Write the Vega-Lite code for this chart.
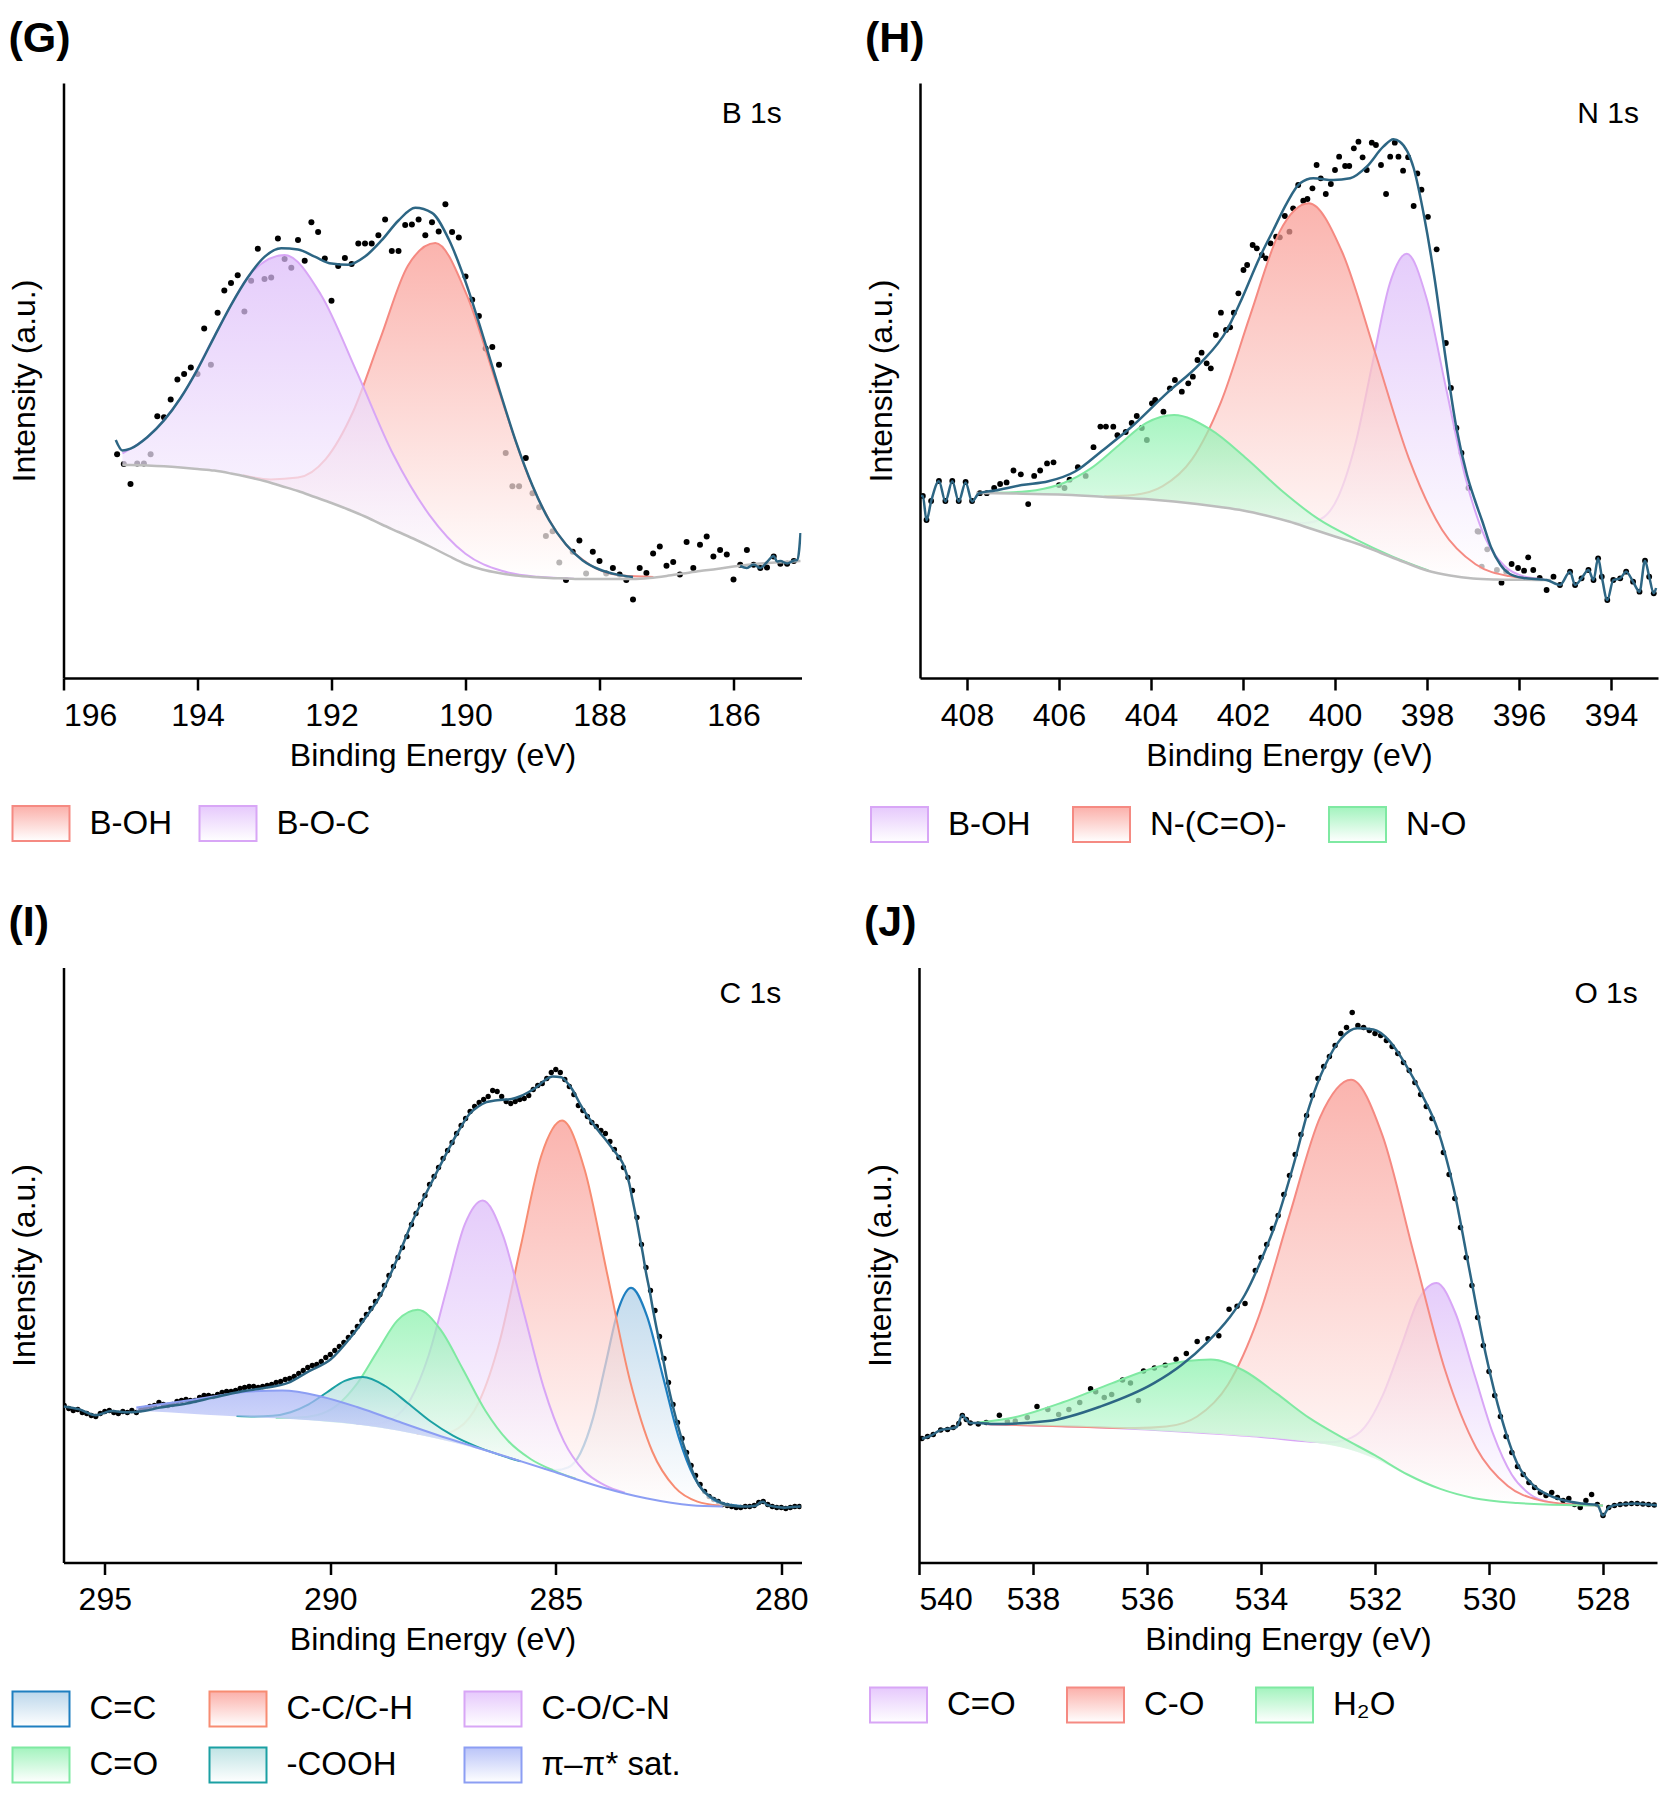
{
  "$schema": "https://vega.github.io/schema/vega-lite/v6.json",
  "background": "white",
  "padding": {"left": 8.5, "top": 17, "right": 5, "bottom": 5},
  "config": {
    "view": {"stroke": null},
    "font": "Liberation Sans",
    "axis": {
      "domainColor": "black", "domainWidth": 2.5, "tickColor": "black", "tickWidth": 2.5, "tickSize": 12,
      "labelFont": "Liberation Sans", "titleFont": "Liberation Sans", "labelFontSize": 32, "titleFontSize": 32,
      "labelColor": "black", "titleColor": "black", "titleFontWeight": "normal", "grid": false
    },
    "legend": {
      "labelFont": "Liberation Sans", "labelFontSize": 33, "labelColor": "black", "padding": 0,
      "symbolStrokeWidth": 2, "symbolType": "M-1,-0.614L1,-0.614L1,0.614L-1,0.614Z", "symbolSize": 3249,
      "labelOffset": 19, "orient": "none", "direction": "horizontal", "title": null
    },
    "title": {"font": "Liberation Sans", "fontSize": 43, "fontWeight": "bold", "color": "black", "anchor": "start", "frame": "bounds", "offset": 22.5}
  },
  "datasets": {
    "g_pts": [
      {"x":195.2,"y":223.8},{"x":195.1,"y":214},{"x":195.0,"y":194},{"x":194.9,"y":214.6},{"x":194.8,"y":214.6},{"x":194.7,"y":223.8},{"x":194.6,"y":261.7},{"x":194.5,"y":260.7},{"x":194.4,"y":278.5},{"x":194.3,"y":298.6},{"x":194.2,"y":304},{"x":194.1,"y":310.5},{"x":194.0,"y":304},{"x":193.9,"y":349.5},{"x":193.8,"y":313.2},{"x":193.7,"y":365.3},{"x":193.6,"y":387.5},{"x":193.5,"y":395.1},{"x":193.4,"y":402.7},{"x":193.3,"y":366.4},{"x":193.2,"y":397.2},{"x":193.1,"y":429.2},{"x":193.0,"y":398.9},{"x":192.9,"y":400.5},{"x":192.8,"y":439.5},{"x":192.7,"y":418.9},{"x":192.6,"y":410.2},{"x":192.5,"y":437.9},{"x":192.4,"y":417.3},{"x":192.3,"y":455.8},{"x":192.2,"y":446},{"x":192.1,"y":419.5},{"x":192.0,"y":377.2},{"x":191.9,"y":411.9},{"x":191.8,"y":420},{"x":191.7,"y":414.1},{"x":191.6,"y":434.6},{"x":191.5,"y":434.6},{"x":191.4,"y":434.6},{"x":191.3,"y":442.8},{"x":191.2,"y":458.5},{"x":191.1,"y":427},{"x":191.0,"y":427},{"x":190.9,"y":453.1},{"x":190.8,"y":453.6},{"x":190.7,"y":458.5},{"x":190.6,"y":442.8},{"x":190.5,"y":455.8},{"x":190.4,"y":446.6},{"x":190.3,"y":473.7},{"x":190.2,"y":446},{"x":190.1,"y":440.6},{"x":190.0,"y":401.6},{"x":189.9,"y":378.3},{"x":189.8,"y":362},{"x":189.7,"y":329.5},{"x":189.6,"y":331.1},{"x":189.5,"y":313.2},{"x":189.4,"y":224.9},{"x":189.3,"y":191.8},{"x":189.2,"y":191.8},{"x":189.1,"y":220},{"x":189.0,"y":184.8},{"x":188.9,"y":170.7},{"x":188.8,"y":142},{"x":188.7,"y":146.8},{"x":188.6,"y":115.4},{"x":188.5,"y":98.1},{"x":188.4,"y":126.2},{"x":188.3,"y":137.6},{"x":188.2,"y":104.6},{"x":188.1,"y":126.2},{"x":188.0,"y":117},{"x":187.9,"y":104.6},{"x":187.8,"y":110},{"x":187.7,"y":103.5},{"x":187.6,"y":98.1},{"x":187.5,"y":78.6},{"x":187.4,"y":110},{"x":187.3,"y":105.1},{"x":187.2,"y":124.6},{"x":187.1,"y":131.6},{"x":187.0,"y":112.2},{"x":186.9,"y":116},{"x":186.8,"y":103.5},{"x":186.7,"y":136},{"x":186.6,"y":110},{"x":186.5,"y":133.3},{"x":186.4,"y":141.4},{"x":186.3,"y":121.4},{"x":186.2,"y":127.9},{"x":186.1,"y":123.5},{"x":186.0,"y":98.6},{"x":185.9,"y":113.2},{"x":185.8,"y":127.9},{"x":185.7,"y":113.2},{"x":185.6,"y":110},{"x":185.5,"y":110.5},{"x":185.4,"y":121.4},{"x":185.3,"y":114.3},{"x":185.2,"y":114.3},{"x":185.1,"y":117}
    ],
    "g_env": [
      {"s":1,"x":195.22,"y":238},{"s":1,"x":195.12,"y":227.5},{"s":1,"x":195.0,"y":229.4},{"s":1,"x":194.75,"y":240.8},{"s":1,"x":194.5,"y":257.6},{"s":1,"x":194.25,"y":280.3},{"s":1,"x":194.0,"y":308.7},{"s":1,"x":193.75,"y":341.2},{"s":1,"x":193.5,"y":372.9},{"s":1,"x":193.25,"y":400.5},{"s":1,"x":193.0,"y":421.1},{"s":1,"x":192.75,"y":429.7},{"s":1,"x":192.5,"y":428.4},{"s":1,"x":192.25,"y":421.3},{"s":1,"x":192.0,"y":414.4},{"s":1,"x":191.75,"y":413.2},{"s":1,"x":191.5,"y":421.4},{"s":1,"x":191.25,"y":437.8},{"s":1,"x":191.0,"y":457.5},{"s":1,"x":190.75,"y":470.2},{"s":1,"x":190.5,"y":465.1},{"s":1,"x":190.25,"y":438.7},{"s":1,"x":190.0,"y":396.4},{"s":1,"x":189.75,"y":344.5},{"s":1,"x":189.5,"y":289.5},{"s":1,"x":189.25,"y":236.9},{"s":1,"x":189.0,"y":192.3},{"s":1,"x":188.75,"y":157.5},{"s":1,"x":188.5,"y":133.5},{"s":1,"x":188.25,"y":117.6},{"s":1,"x":188.0,"y":108.5},{"s":1,"x":187.75,"y":103.6},{"s":1,"x":187.5,"y":101},
      {"s":2,"x":185.9,"y":112},{"s":2,"x":185.8,"y":110},{"s":2,"x":185.7,"y":113.5},{"s":2,"x":185.6,"y":110},{"s":2,"x":185.5,"y":116},{"s":2,"x":185.4,"y":122},{"s":2,"x":185.35,"y":116.5},{"s":2,"x":185.3,"y":117},{"s":2,"x":185.2,"y":114.5},{"s":2,"x":185.1,"y":117.5},{"s":2,"x":185.05,"y":118},{"s":2,"x":185.02,"y":128},{"s":2,"x":185.0,"y":145}
    ],
    "g_bg": [
      {"x":195.12,"y":213},{"x":195.0,"y":213},{"x":194.75,"y":212.5},{"x":194.5,"y":211.7},{"x":194.25,"y":210.5},{"x":194.0,"y":209},{"x":193.75,"y":207.4},{"x":193.5,"y":204.5},{"x":193.25,"y":201},{"x":193.0,"y":197},{"x":192.75,"y":192},{"x":192.5,"y":187},{"x":192.25,"y":181},{"x":192.0,"y":175},{"x":191.75,"y":168.5},{"x":191.5,"y":161.5},{"x":191.25,"y":153.5},{"x":191.0,"y":146},{"x":190.75,"y":138.5},{"x":190.5,"y":130.5},{"x":190.25,"y":122},{"x":190.0,"y":114},{"x":189.75,"y":108.5},{"x":189.5,"y":105},{"x":189.25,"y":102.5},{"x":189.0,"y":101},{"x":188.75,"y":100},{"x":188.5,"y":99.5},{"x":188.25,"y":99},{"x":188.0,"y":99},{"x":187.75,"y":99},{"x":187.5,"y":99},{"x":187.25,"y":100},{"x":187.0,"y":102},{"x":186.75,"y":104.5},{"x":186.5,"y":107},{"x":186.25,"y":109},{"x":186.0,"y":111.5},{"x":185.75,"y":113.5},{"x":185.5,"y":115},{"x":185.25,"y":116},{"x":185.0,"y":117}
    ],
    "g_comp": [
      {"c":"B-OH","x":193.32,"y":202.7,"y0":202},{"c":"B-OH","x":192.91,"y":198.6,"y0":195.2},{"c":"B-OH","x":192.5,"y":200.4,"y0":187},{"c":"B-OH","x":192.09,"y":218.6,"y0":177.2},{"c":"B-OH","x":191.68,"y":266,"y0":166.6},{"c":"B-OH","x":191.27,"y":339.7,"y0":154.1},{"c":"B-OH","x":190.86,"y":412.3,"y0":142.3},{"c":"B-OH","x":190.45,"y":435,"y0":129},{"c":"B-OH","x":189.985,"y":383.7,"y0":113.7},{"c":"B-OH","x":189.52,"y":290.9,"y0":105.3},{"c":"B-OH","x":189.055,"y":200.7,"y0":101.3},{"c":"B-OH","x":188.59,"y":141.1,"y0":99.7},{"c":"B-OH","x":188.125,"y":112.4,"y0":99},{"c":"B-OH","x":187.66,"y":102.4,"y0":99},{"c":"B-OH","x":187.195,"y":101.1,"y0":100.4},
      {"c":"B-O-C","x":195.12,"y":224.6,"y0":213},{"c":"B-O-C","x":194.7,"y":243.8,"y0":212.4},{"c":"B-O-C","x":194.2,"y":285.5,"y0":210.2},{"c":"B-O-C","x":193.7,"y":347.7,"y0":207},{"c":"B-O-C","x":193.2,"y":404.9,"y0":200.2},{"c":"B-O-C","x":192.7,"y":423,"y0":191},{"c":"B-O-C","x":192.16,"y":383.6,"y0":178.9},{"c":"B-O-C","x":191.62,"y":305.6,"y0":164.9},{"c":"B-O-C","x":191.08,"y":223.7,"y0":148.4},{"c":"B-O-C","x":190.54,"y":163.2,"y0":131.8},{"c":"B-O-C","x":190.0,"y":124.2,"y0":114},{"c":"B-O-C","x":189.46,"y":107.2,"y0":104.6},{"c":"B-O-C","x":188.92,"y":101.2,"y0":100.7},{"c":"B-O-C","x":188.38,"y":99.3,"y0":99.3}
    ],
    "h_pts": [
      {"x":408.96,"y":182},{"x":408.88,"y":158},{"x":408.78,"y":177},{"x":408.61,"y":197},{"x":408.47,"y":177},{"x":408.32,"y":197},{"x":408.18,"y":177},{"x":408.03,"y":196},{"x":407.89,"y":177},
      {"x":407.72,"y":184.8},{"x":407.57,"y":184.8},{"x":407.41,"y":190.2},{"x":407.28,"y":194},{"x":407.14,"y":195.6},{"x":406.99,"y":207.5},{"x":406.83,"y":203.7},{"x":406.67,"y":173.9},{"x":406.54,"y":202.1},{"x":406.41,"y":207.5},{"x":406.26,"y":214.6},{"x":406.12,"y":215.7},{"x":406.0,"y":192.9},{"x":405.88,"y":190},{"x":405.77,"y":198.3},{"x":405.59,"y":210.8},{"x":405.42,"y":202.1},{"x":405.25,"y":230.8},{"x":405.1,"y":251.4},{"x":404.98,"y":251.4},{"x":404.82,"y":251.3},{"x":404.73,"y":242.8},{"x":404.55,"y":246},{"x":404.42,"y":255},{"x":404.31,"y":262},{"x":404.2,"y":250},{"x":404.09,"y":238},{"x":403.98,"y":274.7},{"x":403.91,"y":278},{"x":403.73,"y":266.3},{"x":403.59,"y":289.7},{"x":403.48,"y":298},{"x":403.33,"y":286.3},{"x":403.19,"y":294.7},{"x":403.09,"y":301.3},{"x":402.99,"y":318},{"x":402.9,"y":325.3},{"x":402.79,"y":314.7},{"x":402.7,"y":309.7},{"x":402.59,"y":343},{"x":402.48,"y":365.3},{"x":402.37,"y":348},{"x":402.28,"y":350.7},{"x":402.2,"y":365.3},{"x":402.1,"y":384.7},{"x":401.99,"y":408},{"x":401.91,"y":413},{"x":401.79,"y":433},{"x":401.7,"y":429.7},{"x":401.59,"y":423},{"x":401.5,"y":419.7},{"x":401.4,"y":434.7},{"x":401.28,"y":441.3},{"x":401.2,"y":440.7},{"x":401.09,"y":462},{"x":400.99,"y":446.3},{"x":400.91,"y":469.7},{"x":400.8,"y":493},{"x":400.69,"y":477.3},{"x":400.6,"y":479},{"x":400.49,"y":489.7},{"x":400.4,"y":513},{"x":400.31,"y":499.7},{"x":400.2,"y":484},{"x":400.09,"y":494},{"x":400.0,"y":508},{"x":399.91,"y":521.3},{"x":399.78,"y":512},{"x":399.69,"y":512},{"x":399.59,"y":529.7},{"x":399.49,"y":536.3},{"x":399.4,"y":520.7},{"x":399.31,"y":508},{"x":399.2,"y":535.3},{"x":399.11,"y":533},{"x":399.0,"y":513},{"x":398.89,"y":484},{"x":398.8,"y":521.3},{"x":398.7,"y":535.3},{"x":398.62,"y":521.3},{"x":398.52,"y":507.3},{"x":398.41,"y":520.8},{"x":398.29,"y":472},{"x":398.21,"y":504.6},{"x":398.12,"y":488.3},{"x":397.98,"y":461.2},{"x":397.79,"y":428.7},{"x":397.59,"y":335},{"x":397.48,"y":290},{"x":397.36,"y":250},{"x":397.25,"y":225},{"x":397.1,"y":190},{"x":396.9,"y":146.8},{"x":396.88,"y":146.3},{"x":396.81,"y":111.3},{"x":396.69,"y":128.7},{"x":396.48,"y":108},{"x":396.38,"y":95.3},{"x":396.28,"y":106.3},{"x":396.16,"y":114},{"x":396.02,"y":110},{"x":395.89,"y":107.3},{"x":395.8,"y":120.7},{"x":395.69,"y":108},{"x":395.55,"y":100},{"x":395.4,"y":88},{"x":395.25,"y":101.3},{"x":395.11,"y":93},{"x":394.89,"y":106.3},{"x":394.78,"y":93},{"x":394.64,"y":99.7},{"x":394.49,"y":108},{"x":394.38,"y":98},{"x":394.28,"y":119.7},{"x":394.2,"y":101.3},{"x":394.08,"y":78},{"x":393.95,"y":98},{"x":393.8,"y":99.7},{"x":393.67,"y":106.3},{"x":393.52,"y":96.3},{"x":393.38,"y":86.3},{"x":393.26,"y":117.3},{"x":393.17,"y":101.3},{"x":393.07,"y":84.7}
    ],
    "h_env": [
      {"x":409.0,"y":182},{"x":408.96,"y":182.1},{"x":408.88,"y":157.7},{"x":408.78,"y":176.6},{"x":408.61,"y":196.7},{"x":408.47,"y":176.6},{"x":408.32,"y":196.7},{"x":408.18,"y":176.6},{"x":408.03,"y":195.6},{"x":407.89,"y":176.6},{"x":407.74,"y":184.8},{"x":407.39,"y":187.5},{"x":406.81,"y":192.9},{"x":406.23,"y":196.7},{"x":405.65,"y":206.5},{"x":405.07,"y":227},{"x":404.46,"y":249.7},{"x":403.66,"y":284.7},{"x":402.93,"y":314.7},{"x":402.35,"y":348},{"x":402.07,"y":374.7},{"x":401.63,"y":421.3},{"x":401.34,"y":448},{"x":401.05,"y":474.7},{"x":400.76,"y":494.7},{"x":400.47,"y":499.7},{"x":400.04,"y":498},{"x":399.67,"y":499.7},{"x":399.31,"y":511.3},{"x":398.95,"y":531.3},{"x":398.73,"y":538.7},{"x":398.59,"y":536.3},{"x":398.29,"y":510},{"x":398.06,"y":461},{"x":397.83,"y":398},{"x":397.59,"y":318},{"x":397.36,"y":250},{"x":397.13,"y":203},{"x":396.96,"y":178},{"x":396.8,"y":157},{"x":396.61,"y":131},{"x":396.4,"y":113},{"x":396.2,"y":104},{"x":395.9,"y":100},{"x":395.5,"y":98.5},{"x":395.4,"y":98},{"x":395.11,"y":93},{"x":394.89,"y":106.3},{"x":394.78,"y":93},{"x":394.64,"y":99.7},{"x":394.49,"y":108},{"x":394.38,"y":98},{"x":394.28,"y":119.7},{"x":394.2,"y":101.3},{"x":394.08,"y":78},{"x":393.95,"y":98},{"x":393.8,"y":99.7},{"x":393.67,"y":106.3},{"x":393.52,"y":96.3},{"x":393.38,"y":86.3},{"x":393.26,"y":117.3},{"x":393.17,"y":101.3},{"x":393.07,"y":84.7},{"x":393.02,"y":90}
    ],
    "h_bg": [
      {"x":407.8,"y":185},{"x":407.0,"y":184.5},{"x":406.0,"y":183.5},{"x":405.0,"y":181},{"x":404.0,"y":178.5},{"x":403.5,"y":176.5},{"x":403.0,"y":174},{"x":402.5,"y":171},{"x":402.0,"y":167.5},{"x":401.5,"y":162.5},{"x":401.0,"y":156.5},{"x":400.5,"y":149},{"x":400.0,"y":141.5},{"x":399.5,"y":134},{"x":399.0,"y":125},{"x":398.5,"y":116},{"x":398.0,"y":107.5},{"x":397.5,"y":102.5},{"x":397.0,"y":99.5},{"x":396.5,"y":98.5},{"x":396.0,"y":98.2},{"x":395.3,"y":98}
    ],
    "h_comp": [
      {"c":"B-OH","x":401.03,"y":157.6,"y0":156.9},{"c":"B-OH","x":400.66,"y":155,"y0":151.4},{"c":"B-OH","x":400.29,"y":159.5,"y0":145.9},{"c":"B-OH","x":399.92,"y":182.2,"y0":140.4},{"c":"B-OH","x":399.55,"y":235.2,"y0":134.9},{"c":"B-OH","x":399.18,"y":315.9,"y0":128.5},{"c":"B-OH","x":398.81,"y":394.3,"y0":121.6},{"c":"B-OH","x":398.44,"y":424.3,"y0":115.3},{"c":"B-OH","x":398.015,"y":380.5,"y0":107.8},{"c":"B-OH","x":397.59,"y":290.7,"y0":103.3},{"c":"B-OH","x":397.165,"y":200.6,"y0":100.3},{"c":"B-OH","x":396.74,"y":140.7,"y0":98.9},{"c":"B-OH","x":396.315,"y":112,"y0":98.4},{"c":"B-OH","x":395.89,"y":101.5,"y0":98.1},{"c":"B-OH","x":395.465,"y":98.7,"y0":98},
      {"c":"N-(C=O)-","x":405.015,"y":181.7,"y0":181},{"c":"N-(C=O)-","x":404.38,"y":183,"y0":179.4},{"c":"N-(C=O)-","x":403.745,"y":191.8,"y0":177.5},{"c":"N-(C=O)-","x":403.11,"y":218.6,"y0":174.6},{"c":"N-(C=O)-","x":402.475,"y":276.4,"y0":170.9},{"c":"N-(C=O)-","x":401.84,"y":363.1,"y0":166},{"c":"N-(C=O)-","x":401.205,"y":446.1,"y0":159},{"c":"N-(C=O)-","x":400.57,"y":474.7,"y0":150},{"c":"N-(C=O)-","x":399.845,"y":426,"y0":139.2},{"c":"N-(C=O)-","x":399.12,"y":324.3,"y0":127.2},{"c":"N-(C=O)-","x":398.395,"y":219.7,"y0":114.2},{"c":"N-(C=O)-","x":397.67,"y":148,"y0":104},{"c":"N-(C=O)-","x":396.945,"y":113.7,"y0":99.4},{"c":"N-(C=O)-","x":396.22,"y":101.9,"y0":98.3},{"c":"N-(C=O)-","x":395.495,"y":98.7,"y0":98},
      {"c":"N-O","x":407.7,"y":185.2,"y0":185},{"c":"N-O","x":407.1,"y":185.6,"y0":184.6},{"c":"N-O","x":406.5,"y":187.8,"y0":184},{"c":"N-O","x":405.9,"y":195,"y0":183.3},{"c":"N-O","x":405.3,"y":209.9,"y0":181.8},{"c":"N-O","x":404.7,"y":232.8,"y0":180.3},{"c":"N-O","x":404.1,"y":255.1,"y0":178.8},{"c":"N-O","x":403.5,"y":263,"y0":176.5},{"c":"N-O","x":402.71,"y":248.6,"y0":172.3},{"c":"N-O","x":401.92,"y":219.3,"y0":166.8},{"c":"N-O","x":401.13,"y":186.2,"y0":158.1},{"c":"N-O","x":400.34,"y":158.3,"y0":146.6},{"c":"N-O","x":399.55,"y":138.7,"y0":134.9},{"c":"N-O","x":398.76,"y":121.7,"y0":120.7},{"c":"N-O","x":397.97,"y":107.5,"y0":107.3}
    ],
    "i_pts": [
      {"x":295.9,"y":157},{"x":295.8,"y":154},{"x":295.7,"y":152},{"x":295.6,"y":153},{"x":295.5,"y":150},{"x":295.4,"y":149},{"x":295.3,"y":147},{"x":295.2,"y":146},{"x":295.1,"y":149},{"x":295.0,"y":151},{"x":294.9,"y":152},{"x":294.8,"y":150},{"x":294.7,"y":149},{"x":294.6,"y":151},{"x":294.5,"y":150},{"x":294.4,"y":152},{"x":294.3,"y":150},{"x":294.2,"y":153},{"x":294.1,"y":154},{"x":294.0,"y":156},{"x":293.9,"y":157},{"x":293.8,"y":160},{"x":293.7,"y":158},{"x":293.6,"y":157},{"x":293.5,"y":158},{"x":293.4,"y":161},{"x":293.3,"y":162},{"x":293.2,"y":163},{"x":293.1,"y":162},{"x":293.0,"y":162},{"x":292.9,"y":165},{"x":292.8,"y":167},{"x":292.7,"y":167},{"x":292.6,"y":166},{"x":292.5,"y":168},{"x":292.4,"y":170},{"x":292.3,"y":171},{"x":292.2,"y":171},{"x":292.1,"y":172},{"x":292.0,"y":174},{"x":291.9,"y":175},{"x":291.8,"y":176},{"x":291.7,"y":176},{"x":291.6,"y":175},{"x":291.5,"y":176},{"x":291.4,"y":177},{"x":291.3,"y":178},{"x":291.2,"y":180},{"x":291.1,"y":181},{"x":291.0,"y":183},{"x":290.9,"y":184},{"x":290.8,"y":186},{"x":290.7,"y":189},{"x":290.6,"y":192},{"x":290.5,"y":195},{"x":290.4,"y":197},{"x":290.3,"y":198},{"x":290.2,"y":201},{"x":290.1,"y":205},{"x":290.0,"y":208},{"x":289.9,"y":212},{"x":289.8,"y":216},{"x":289.7,"y":220},{"x":289.6,"y":225},{"x":289.5,"y":230},{"x":289.4,"y":236},{"x":289.3,"y":242},{"x":289.2,"y":248},{"x":289.1,"y":254},{"x":289.0,"y":261},{"x":288.9,"y":268},{"x":288.8,"y":277},{"x":288.7,"y":287},{"x":288.6,"y":296},{"x":288.5,"y":305},{"x":288.4,"y":315},{"x":288.3,"y":326},{"x":288.2,"y":338},{"x":288.1,"y":349},{"x":288.0,"y":358},{"x":287.9,"y":367},{"x":287.8,"y":378},{"x":287.7,"y":386},{"x":287.6,"y":395},{"x":287.5,"y":404},{"x":287.4,"y":412},{"x":287.3,"y":420},{"x":287.2,"y":429},{"x":287.1,"y":437},{"x":287.0,"y":444},{"x":286.9,"y":451},{"x":286.8,"y":456},{"x":286.7,"y":460},{"x":286.6,"y":463},{"x":286.5,"y":466},{"x":286.4,"y":472},{"x":286.3,"y":471},{"x":286.2,"y":466},{"x":286.1,"y":461},{"x":286.0,"y":459},{"x":285.9,"y":461},{"x":285.8,"y":463},{"x":285.7,"y":464},{"x":285.6,"y":467},{"x":285.5,"y":473},{"x":285.4,"y":477},{"x":285.3,"y":479},{"x":285.2,"y":484},{"x":285.1,"y":490},{"x":285.0,"y":493},{"x":284.9,"y":490},{"x":284.8,"y":483},{"x":284.7,"y":476},{"x":284.6,"y":468},{"x":284.5,"y":457},{"x":284.4,"y":452},{"x":284.3,"y":446},{"x":284.2,"y":440},{"x":284.1,"y":436},{"x":284.0,"y":432},{"x":283.9,"y":429},{"x":283.8,"y":421},{"x":283.7,"y":413},{"x":283.6,"y":405},{"x":283.5,"y":395},{"x":283.4,"y":385},{"x":283.3,"y":372},{"x":283.2,"y":345},{"x":283.1,"y":318},{"x":283.0,"y":295},{"x":282.9,"y":272},{"x":282.8,"y":252},{"x":282.7,"y":226},{"x":282.6,"y":204},{"x":282.5,"y":180},{"x":282.4,"y":158},{"x":282.3,"y":140},{"x":282.2,"y":124},{"x":282.1,"y":110},{"x":282.0,"y":97},{"x":281.9,"y":87},{"x":281.8,"y":78},{"x":281.7,"y":71},{"x":281.6,"y":66},{"x":281.5,"y":63},{"x":281.4,"y":61},{"x":281.3,"y":58},{"x":281.2,"y":57},{"x":281.1,"y":56},{"x":281.0,"y":55},{"x":280.9,"y":55},{"x":280.8,"y":56},{"x":280.7,"y":56},{"x":280.6,"y":57},{"x":280.5,"y":60},{"x":280.4,"y":61},{"x":280.3,"y":58},{"x":280.2,"y":56},{"x":280.1,"y":55},{"x":280.0,"y":55},{"x":279.9,"y":54},{"x":279.8,"y":55},{"x":279.7,"y":56},{"x":279.6,"y":56}
    ],
    "i_env": [
      {"x":295.91,"y":156.1},{"x":295.56,"y":153.1},{"x":295.2,"y":147.2},{"x":294.85,"y":151.4},{"x":294.49,"y":150.2},{"x":294.14,"y":151.4},{"x":293.78,"y":154.9},{"x":293.19,"y":159},{"x":292.6,"y":164.9},{"x":292.0,"y":170.8},{"x":291.41,"y":174.9},{"x":290.94,"y":179.6},{"x":290.47,"y":191.4},{"x":289.99,"y":203.2},{"x":289.52,"y":226.8},{"x":289.2,"y":246},{"x":288.91,"y":265.3},{"x":288.57,"y":298},{"x":288.17,"y":342},{"x":287.8,"y":376},{"x":287.43,"y":408.7},{"x":287.15,"y":432},{"x":286.91,"y":448.7},{"x":286.72,"y":456},{"x":286.54,"y":460.3},{"x":286.35,"y":462},{"x":286.17,"y":462.7},{"x":285.98,"y":463.5},{"x":285.8,"y":466},{"x":285.62,"y":470},{"x":285.43,"y":475.3},{"x":285.25,"y":482},{"x":285.07,"y":486},{"x":284.88,"y":485.3},{"x":284.75,"y":480},{"x":284.62,"y":472},{"x":284.48,"y":460},{"x":284.33,"y":448.7},{"x":284.18,"y":439},{"x":284.03,"y":430.3},{"x":283.88,"y":422},{"x":283.74,"y":413.7},{"x":283.62,"y":406.5},{"x":283.51,"y":398.7},{"x":283.44,"y":390},{"x":283.37,"y":378.7},{"x":283.3,"y":363},{"x":283.22,"y":345.3},{"x":283.15,"y":328},{"x":283.07,"y":308.7},{"x":283.0,"y":290},{"x":282.92,"y":272},{"x":282.85,"y":254},{"x":282.77,"y":235.3},{"x":282.7,"y":220},{"x":282.63,"y":205.3},{"x":282.5,"y":175},{"x":282.38,"y":152},{"x":282.25,"y":130},{"x":282.1,"y":108},{"x":281.95,"y":89},{"x":281.82,"y":77},{"x":281.64,"y":68},{"x":281.46,"y":63},{"x":281.3,"y":59},{"x":281.11,"y":57.1},{"x":280.9,"y":56},{"x":280.75,"y":56},{"x":280.55,"y":57},{"x":280.47,"y":60},{"x":280.4,"y":60.7},{"x":280.33,"y":58},{"x":280.28,"y":57.1},{"x":280.1,"y":55.5},{"x":279.92,"y":54.8},{"x":279.75,"y":55.5},{"x":279.57,"y":56}
    ],
    "i_comp": [
      {"c":"C=C","x":285.29,"y":94.7,"y0":94.2},{"c":"C=C","x":285.01,"y":92.4,"y0":90.1},{"c":"C=C","x":284.73,"y":95,"y0":85.9},{"c":"C=C","x":284.45,"y":109.8,"y0":81.8},{"c":"C=C","x":284.17,"y":145.1,"y0":77.9},{"c":"C=C","x":283.89,"y":199.6,"y0":74.1},{"c":"C=C","x":283.61,"y":253.5,"y0":70.8},{"c":"C=C","x":283.33,"y":274.7,"y0":67.7},{"c":"C=C","x":282.98,"y":246.7,"y0":64},{"c":"C=C","x":282.63,"y":186.9,"y0":61.4},{"c":"C=C","x":282.28,"y":126.2,"y0":59},{"c":"C=C","x":281.93,"y":85.1,"y0":57.1},{"c":"C=C","x":281.58,"y":65.4,"y0":56.3},{"c":"C=C","x":281.23,"y":58.4,"y0":56.1},{"c":"C=C","x":280.88,"y":56.5,"y0":56},
      {"c":"C-C/C-H","x":288.08,"y":129,"y0":128.2},{"c":"C-C/C-H","x":287.62,"y":127.6,"y0":123.7},{"c":"C-C/C-H","x":287.16,"y":134.3,"y0":118.8},{"c":"C-C/C-H","x":286.7,"y":161,"y0":113.1},{"c":"C-C/C-H","x":286.24,"y":222,"y0":107.1},{"c":"C-C/C-H","x":285.78,"y":315.7,"y0":101},{"c":"C-C/C-H","x":285.32,"y":407,"y0":94.6},{"c":"C-C/C-H","x":284.86,"y":441.9,"y0":87.9},{"c":"C-C/C-H","x":284.36,"y":392.8,"y0":80.4},{"c":"C-C/C-H","x":283.86,"y":288.5,"y0":73.8},{"c":"C-C/C-H","x":283.36,"y":182.8,"y0":67.9},{"c":"C-C/C-H","x":282.86,"y":111,"y0":63.1},{"c":"C-C/C-H","x":282.36,"y":75.1,"y0":59.6},{"c":"C-C/C-H","x":281.86,"y":60.9,"y0":57},{"c":"C-C/C-H","x":281.36,"y":56.9,"y0":56.1},
      {"c":"C-O/C-N","x":289.42,"y":138.8,"y0":138.2},{"c":"C-O/C-N","x":289.02,"y":138.4,"y0":135.6},{"c":"C-O/C-N","x":288.62,"y":143.8,"y0":132.8},{"c":"C-O/C-N","x":288.22,"y":163.3,"y0":129.5},{"c":"C-O/C-N","x":287.82,"y":207,"y0":125.8},{"c":"C-O/C-N","x":287.42,"y":273.2,"y0":121.6},{"c":"C-O/C-N","x":287.02,"y":337.8,"y0":117.2},{"c":"C-O/C-N","x":286.62,"y":362,"y0":112},{"c":"C-O/C-N","x":286.17,"y":326.8,"y0":106.2},{"c":"C-O/C-N","x":285.72,"y":251.8,"y0":100.2},{"c":"C-O/C-N","x":285.27,"y":175.1,"y0":93.9},{"c":"C-O/C-N","x":284.82,"y":121.1,"y0":87.3},{"c":"C-O/C-N","x":284.37,"y":91.5,"y0":80.5},{"c":"C-O/C-N","x":283.92,"y":77.4,"y0":74.6},{"c":"C-O/C-N","x":283.47,"y":69.8,"y0":69.2},
      {"c":"C=O","x":291.21,"y":144.7,"y0":144.4},{"c":"C=O","x":290.76,"y":144.9,"y0":143.5},{"c":"C=O","x":290.31,"y":147.3,"y0":141.8},{"c":"C=O","x":289.86,"y":156.9,"y0":140},{"c":"C=O","x":289.41,"y":178.6,"y0":138.1},{"c":"C=O","x":288.96,"y":210.9,"y0":135.3},{"c":"C=O","x":288.51,"y":242.1,"y0":132.1},{"c":"C=O","x":288.06,"y":252.7,"y0":128},{"c":"C=O","x":287.56,"y":233.1,"y0":123.1},{"c":"C=O","x":287.06,"y":193.3,"y0":117.7},{"c":"C=O","x":286.56,"y":151.8,"y0":111.3},{"c":"C=O","x":286.06,"y":121.7,"y0":104.8},{"c":"C=O","x":285.56,"y":103.5,"y0":98},{"c":"C=O","x":285.06,"y":92.2,"y0":90.8},{"c":"C=O","x":284.56,"y":83.7,"y0":83.4},
      {"c":"-COOH","x":292.08,"y":146.4,"y0":146.3},{"c":"-COOH","x":291.68,"y":146,"y0":145.5},{"c":"-COOH","x":291.28,"y":146.7,"y0":144.6},{"c":"-COOH","x":290.88,"y":150.3,"y0":143.8},{"c":"-COOH","x":290.48,"y":158.1,"y0":142.4},{"c":"-COOH","x":290.08,"y":170,"y0":140.8},{"c":"-COOH","x":289.68,"y":181.7,"y0":139.2},{"c":"-COOH","x":289.28,"y":185.5,"y0":137.3},{"c":"-COOH","x":288.78,"y":176.5,"y0":134},{"c":"-COOH","x":288.28,"y":159.3,"y0":130.1},{"c":"-COOH","x":287.78,"y":141.2,"y0":125.5},{"c":"-COOH","x":287.28,"y":126.8,"y0":120.3},{"c":"-COOH","x":286.78,"y":116.3,"y0":114.2},{"c":"-COOH","x":286.28,"y":108.1,"y0":107.6},{"c":"-COOH","x":285.78,"y":101.1,"y0":101},
      {"c":"π–π* sat.","x":294.3,"y":155,"y0":151.5},{"c":"π–π* sat.","x":293.61,"y":159.3,"y0":150.2},{"c":"π–π* sat.","x":292.76,"y":164.7,"y0":147.7},{"c":"π–π* sat.","x":291.91,"y":170.5,"y0":145.8},{"c":"π–π* sat.","x":291.06,"y":172,"y0":144},{"c":"π–π* sat.","x":290.21,"y":166.1,"y0":141.4},{"c":"π–π* sat.","x":289.36,"y":154.8,"y0":137.8},{"c":"π–π* sat.","x":288.51,"y":141.2,"y0":132.1},{"c":"π–π* sat.","x":287.66,"y":128,"y0":124.2},{"c":"π–π* sat.","x":286.81,"y":115.8,"y0":114.6},{"c":"π–π* sat.","x":285.96,"y":103.9,"y0":103.6},{"c":"π–π* sat.","x":285.11,"y":91.7,"y0":91.6},{"c":"π–π* sat.","x":284.0,"y":75.5,"y0":75.5},{"c":"π–π* sat.","x":283.0,"y":64.2,"y0":64.2},{"c":"π–π* sat.","x":282.0,"y":57.3,"y0":57.3},{"c":"π–π* sat.","x":281.3,"y":56.1,"y0":56.1}
    ],
    "j_pts": [
      {"x":539.95,"y":124},{"x":539.85,"y":126},{"x":539.75,"y":128},{"x":539.62,"y":132.5},{"x":539.5,"y":133},{"x":539.4,"y":135},{"x":539.3,"y":139},{"x":539.24,"y":147},{"x":539.17,"y":143},{"x":539.1,"y":139.6},{"x":538.96,"y":138.4},{"x":538.82,"y":140},{"x":538.59,"y":147.2},{"x":538.45,"y":141},{"x":538.31,"y":141.4},{"x":538.1,"y":145},{"x":537.93,"y":156.1},{"x":537.74,"y":153.1},{"x":537.55,"y":148},{"x":537.37,"y":153.1},{"x":537.18,"y":160},{"x":536.99,"y":173.7},{"x":536.9,"y":170.8},{"x":536.75,"y":165},{"x":536.62,"y":167.9},{"x":536.43,"y":182.6},{"x":536.29,"y":179.6},{"x":536.15,"y":162},{"x":536.06,"y":191.4},{"x":535.87,"y":194.4},{"x":535.68,"y":197.3},{"x":535.49,"y":203.2},{"x":535.31,"y":209.1},{"x":535.12,"y":220.9},{"x":534.93,"y":223.8},{"x":534.74,"y":226.7},{"x":534.56,"y":253.3},{"x":534.42,"y":256.2},{"x":534.28,"y":259.1},
      {"x":534.1,"y":292},{"x":534.0,"y":305},{"x":533.9,"y":318},{"x":533.8,"y":334},{"x":533.7,"y":347},{"x":533.6,"y":368},{"x":533.5,"y":387},{"x":533.4,"y":408},{"x":533.3,"y":428},{"x":533.2,"y":447},{"x":533.1,"y":467},{"x":533.0,"y":484},{"x":532.9,"y":496},{"x":532.8,"y":506},{"x":532.7,"y":517},{"x":532.6,"y":529},{"x":532.5,"y":535},{"x":532.4,"y":550},{"x":532.3,"y":537},{"x":532.2,"y":535},{"x":532.1,"y":532},{"x":532.0,"y":529},{"x":531.9,"y":527},{"x":531.8,"y":522},{"x":531.7,"y":516},{"x":531.6,"y":509},{"x":531.5,"y":500},{"x":531.4,"y":492},{"x":531.3,"y":480},{"x":531.2,"y":468},{"x":531.1,"y":456},{"x":531.0,"y":444},{"x":530.9,"y":430},{"x":530.8,"y":410},{"x":530.7,"y":388},{"x":530.6,"y":364},{"x":530.5,"y":335},{"x":530.4,"y":305},{"x":530.3,"y":277},{"x":530.2,"y":245},{"x":530.1,"y":217},{"x":530.0,"y":191},{"x":529.9,"y":167},{"x":529.8,"y":146},{"x":529.7,"y":126},{"x":529.6,"y":110},{"x":529.5,"y":96},{"x":529.4,"y":88},{"x":529.3,"y":80},{"x":529.2,"y":75},{"x":529.1,"y":70},{"x":529.0,"y":67},{"x":528.9,"y":70},{"x":528.8,"y":65},{"x":528.7,"y":62},{"x":528.6,"y":64},{"x":528.5,"y":58},{"x":528.4,"y":55},{"x":528.3,"y":62},{"x":528.2,"y":68},{"x":528.1,"y":58},{"x":528.0,"y":47},{"x":527.9,"y":55},{"x":527.8,"y":57},{"x":527.7,"y":58},{"x":527.6,"y":58.5},{"x":527.5,"y":59},{"x":527.4,"y":59},{"x":527.3,"y":58.5},{"x":527.2,"y":58},{"x":527.1,"y":57.5}
    ],
    "j_env": [
      {"x":539.95,"y":123.7},{"x":539.8,"y":126.6},{"x":539.62,"y":132.5},{"x":539.45,"y":134},{"x":539.34,"y":135.5},{"x":539.24,"y":147.2},{"x":539.17,"y":143},{"x":539.1,"y":139.6},{"x":538.96,"y":139.6},{"x":538.68,"y":138.4},{"x":537.74,"y":141.4},{"x":536.81,"y":156.1},{"x":535.87,"y":179.6},{"x":535.4,"y":197.3},{"x":534.93,"y":220.9},{"x":534.56,"y":244.4},{"x":534.28,"y":268},{"x":533.99,"y":303.3},{"x":533.71,"y":344.5},{"x":533.43,"y":397.5},{"x":533.15,"y":456.4},{"x":532.87,"y":497.7},{"x":532.59,"y":524.2},{"x":532.31,"y":534.2},{"x":532.03,"y":533},{"x":531.74,"y":521.2},{"x":531.46,"y":497.7},{"x":531.18,"y":468.2},{"x":530.9,"y":432.9},{"x":530.62,"y":374},{"x":530.34,"y":291.5},{"x":530.06,"y":209.1},{"x":529.78,"y":144.3},{"x":529.49,"y":97.2},{"x":529.21,"y":76.6},{"x":528.84,"y":64.8},{"x":528.37,"y":58.9},{"x":528.1,"y":57.5},{"x":528.0,"y":47.1},{"x":527.9,"y":55},{"x":527.81,"y":57.1},{"x":527.6,"y":58.5},{"x":527.43,"y":58.9},{"x":527.2,"y":58},{"x":527.01,"y":57.1}
    ],
    "j_comp": [
      {"c":"C=O","x":538.8,"y":138.2,"y0":138.2},{"c":"C=O","x":538.0,"y":137,"y0":137},{"c":"C=O","x":537.0,"y":135.5,"y0":135.5},{"c":"C=O","x":536.0,"y":133,"y0":133},{"c":"C=O","x":535.0,"y":129.5,"y0":129.5},{"c":"C=O","x":534.0,"y":125.5,"y0":125.5},{"c":"C=O","x":533.125,"y":120.8,"y0":120.3},{"c":"C=O","x":532.81,"y":120.2,"y0":117.9},{"c":"C=O","x":532.495,"y":123,"y0":114},{"c":"C=O","x":532.18,"y":135.3,"y0":107.6},{"c":"C=O","x":531.865,"y":167.1,"y0":100.5},{"c":"C=O","x":531.55,"y":214.6,"y0":90.3},{"c":"C=O","x":531.235,"y":263,"y0":82.1},{"c":"C=O","x":530.92,"y":279.5,"y0":74.5},{"c":"C=O","x":530.59,"y":249.5,"y0":68.6},{"c":"C=O","x":530.26,"y":188.7,"y0":64.4},{"c":"C=O","x":529.93,"y":128.8,"y0":61.7},{"c":"C=O","x":529.6,"y":87.7,"y0":60},{"c":"C=O","x":529.27,"y":67.7,"y0":58.7},{"c":"C=O","x":528.94,"y":60.2,"y0":57.9},{"c":"C=O","x":528.61,"y":57.9,"y0":57.4},{"c":"C=O","x":528.0,"y":57,"y0":57},
      {"c":"C-O","x":538.8,"y":138.2,"y0":138.2},{"c":"C-O","x":537.5,"y":136.3,"y0":136.3},{"c":"C-O","x":536.2,"y":134.4,"y0":133.6},{"c":"C-O","x":535.66,"y":135.9,"y0":131.8},{"c":"C-O","x":535.12,"y":146,"y0":129.8},{"c":"C-O","x":534.58,"y":177.7,"y0":127.6},{"c":"C-O","x":534.04,"y":245.8,"y0":125.7},{"c":"C-O","x":533.5,"y":347.4,"y0":123},{"c":"C-O","x":532.96,"y":445.7,"y0":119.2},{"c":"C-O","x":532.42,"y":482.7,"y0":112.7},{"c":"C-O","x":531.87,"y":427.1,"y0":100.6},{"c":"C-O","x":531.32,"y":309,"y0":84.6},{"c":"C-O","x":530.77,"y":192.2,"y0":72.1},{"c":"C-O","x":530.22,"y":114.3,"y0":64.2},{"c":"C-O","x":529.67,"y":76.5,"y0":60.3},{"c":"C-O","x":529.12,"y":62.4,"y0":58.3},{"c":"C-O","x":528.57,"y":58.2,"y0":57.4},{"c":"C-O","x":528.0,"y":57,"y0":57},
      {"c":"H₂O","x":538.96,"y":140,"y0":138.4},{"c":"H₂O","x":538.34,"y":145,"y0":137.5},{"c":"H₂O","x":537.475,"y":160.2,"y0":136.2},{"c":"H₂O","x":536.61,"y":179.4,"y0":134.5},{"c":"H₂O","x":535.745,"y":196.8,"y0":131.5},{"c":"H₂O","x":534.88,"y":203,"y0":129},{"c":"H₂O","x":534.305,"y":192,"y0":126.7},{"c":"H₂O","x":533.73,"y":169.1,"y0":124.2},{"c":"H₂O","x":533.155,"y":144.6,"y0":120.6},{"c":"H₂O","x":532.58,"y":125.1,"y0":115.1},{"c":"H₂O","x":532.005,"y":107.3,"y0":104.1},{"c":"H₂O","x":531.43,"y":88,"y0":87.2},{"c":"H₂O","x":530.855,"y":73.6,"y0":73.4},{"c":"H₂O","x":530.28,"y":64.6,"y0":64.6},{"c":"H₂O","x":529.5,"y":59.5,"y0":59.5},{"c":"H₂O","x":529.0,"y":58,"y0":58},{"c":"H₂O","x":528.5,"y":57.3,"y0":57.3},{"c":"H₂O","x":528.0,"y":57,"y0":57}
    ]
  },
  "resolve": {"scale": {"stroke": "independent"}, "legend": {"stroke": "independent"}},
  "spacing": 55.5,
  "vconcat": [
    {
      "spacing": 63.5,
      "resolve": {"scale": {"stroke": "independent"}, "legend": {"stroke": "independent"}},
      "hconcat": [
        {
          "title": {"text": "(G)"},
          "width": 738, "height": 595,
          "encoding": {
            "x": {"field": "x", "type": "quantitative", "scale": {"domain": [184.985, 196], "reverse": true, "nice": false, "zero": false}, "axis": {"values": [186, 188, 190, 192, 194, 196], "format": "d", "title": "Binding Energy (eV)", "labelPadding": 10, "titlePadding": 9}},
            "y": {"field": "y", "type": "quantitative", "scale": {"domain": [0, 595], "nice": false, "zero": false}, "axis": {"title": "Intensity (a.u.)", "labels": false, "ticks": false, "titlePadding": 22}}
          },
          "layer": [
            {"data": {"name": "g_pts"}, "mark": {"type": "circle", "size": 36, "color": "black", "opacity": 1, "clip": true}},
            {"data": {"name": "g_comp"}, "transform": [{"filter": "datum.c === 'B-OH'"}], "mark": {"type": "area", "interpolate": "monotone", "fillOpacity": 0.72, "clip": true, "color": {"gradient": "linear", "x1": 0, "y1": 0, "x2": 0, "y2": 1, "stops": [{"offset": 0, "color": "#f9978f"}, {"offset": 1, "color": "#ffffff"}]}}, "encoding": {"y2": {"field": "y0"}}},
            {"data": {"name": "g_comp"}, "transform": [{"filter": "datum.c === 'B-OH'"}], "mark": {"type": "line", "interpolate": "monotone", "strokeWidth": 2, "clip": true},
             "encoding": {"stroke": {"field": "c", "type": "nominal", "scale": {"domain": ["B-OH", "B-O-C"], "range": ["#f58a82", "#d8a6f6"]},
               "legend": {"legendX": -52, "legendY": 711, "columnPadding": 23,
                 "encode": {"symbols": {"update": {"fill": [
                   {"test": "datum.value === 'B-OH'", "value": {"gradient": "linear", "x1": 0, "y1": 0, "x2": 0, "y2": 1, "stops": [{"offset": 0, "color": "#fbb0aa"}, {"offset": 1, "color": "#ffffff"}]}},
                   {"value": {"gradient": "linear", "x1": 0, "y1": 0, "x2": 0, "y2": 1, "stops": [{"offset": 0, "color": "#e6c9fc"}, {"offset": 1, "color": "#ffffff"}]}}]}}}}}}},
            {"data": {"name": "g_comp"}, "transform": [{"filter": "datum.c === 'B-O-C'"}], "mark": {"type": "area", "interpolate": "monotone", "fillOpacity": 0.72, "clip": true, "color": {"gradient": "linear", "x1": 0, "y1": 0, "x2": 0, "y2": 1, "stops": [{"offset": 0, "color": "#dbb9f9"}, {"offset": 1, "color": "#ffffff"}]}}, "encoding": {"y2": {"field": "y0"}}},
            {"data": {"name": "g_comp"}, "transform": [{"filter": "datum.c === 'B-O-C'"}], "mark": {"type": "line", "interpolate": "monotone", "strokeWidth": 2, "clip": true}, "encoding": {"stroke": {"field": "c", "type": "nominal"}}},
            {"data": {"name": "g_bg"}, "mark": {"type": "line", "interpolate": "monotone", "color": "#bdbdbd", "strokeWidth": 2.5, "clip": true}},
            {"data": {"name": "g_env"}, "mark": {"type": "line", "interpolate": "monotone", "color": "#2d6684", "strokeWidth": 2.5, "clip": true}, "encoding": {"detail": {"field": "s"}}},
            {"data": {"values": [{"x": 185.28, "y": 555, "t": "B 1s"}]}, "mark": {"type": "text", "align": "right", "baseline": "alphabetic", "fontSize": 30, "color": "black"}, "encoding": {"text": {"field": "t"}}}
          ]
        },
        {
          "title": {"text": "(H)"},
          "width": 738, "height": 595,
          "encoding": {
            "x": {"field": "x", "type": "quantitative", "scale": {"domain": [392.978, 409.022], "reverse": true, "nice": false, "zero": false}, "axis": {"values": [394, 396, 398, 400, 402, 404, 406, 408], "format": "d", "title": "Binding Energy (eV)", "labelPadding": 10, "titlePadding": 9}},
            "y": {"field": "y", "type": "quantitative", "scale": {"domain": [0, 595], "nice": false, "zero": false}, "axis": {"title": "Intensity (a.u.)", "labels": false, "ticks": false, "titlePadding": 22}}
          },
          "layer": [
            {"data": {"name": "h_pts"}, "mark": {"type": "circle", "size": 34, "color": "black", "opacity": 1, "clip": true}},
            {"data": {"name": "h_comp"}, "transform": [{"filter": "datum.c === 'B-OH'"}], "mark": {"type": "area", "interpolate": "monotone", "fillOpacity": 0.72, "clip": true, "color": {"gradient": "linear", "x1": 0, "y1": 0, "x2": 0, "y2": 1, "stops": [{"offset": 0, "color": "#dbb9f9"}, {"offset": 1, "color": "#ffffff"}]}}, "encoding": {"y2": {"field": "y0"}}},
            {"data": {"name": "h_comp"}, "transform": [{"filter": "datum.c === 'B-OH'"}], "mark": {"type": "line", "interpolate": "monotone", "strokeWidth": 2, "clip": true},
             "encoding": {"stroke": {"field": "c", "type": "nominal", "scale": {"domain": ["B-OH", "N-(C=O)-", "N-O"], "range": ["#d8a6f6", "#f58a82", "#7fe9a2"]},
               "legend": {"legendX": -50, "legendY": 712, "columnPadding": 38,
                 "encode": {"symbols": {"update": {"fill": [
                   {"test": "datum.value === 'B-OH'", "value": {"gradient": "linear", "x1": 0, "y1": 0, "x2": 0, "y2": 1, "stops": [{"offset": 0, "color": "#e6c9fc"}, {"offset": 1, "color": "#ffffff"}]}},
                   {"test": "datum.value === 'N-O'", "value": {"gradient": "linear", "x1": 0, "y1": 0, "x2": 0, "y2": 1, "stops": [{"offset": 0, "color": "#a3f3be"}, {"offset": 1, "color": "#ffffff"}]}},
                   {"value": {"gradient": "linear", "x1": 0, "y1": 0, "x2": 0, "y2": 1, "stops": [{"offset": 0, "color": "#fbb0aa"}, {"offset": 1, "color": "#ffffff"}]}}]}}}}}}},
            {"data": {"name": "h_comp"}, "transform": [{"filter": "datum.c === 'N-(C=O)-'"}], "mark": {"type": "area", "interpolate": "monotone", "fillOpacity": 0.72, "clip": true, "color": {"gradient": "linear", "x1": 0, "y1": 0, "x2": 0, "y2": 1, "stops": [{"offset": 0, "color": "#f9978f"}, {"offset": 1, "color": "#ffffff"}]}}, "encoding": {"y2": {"field": "y0"}}},
            {"data": {"name": "h_comp"}, "transform": [{"filter": "datum.c === 'N-(C=O)-'"}], "mark": {"type": "line", "interpolate": "monotone", "strokeWidth": 2, "clip": true}, "encoding": {"stroke": {"field": "c", "type": "nominal"}}},
            {"data": {"name": "h_comp"}, "transform": [{"filter": "datum.c === 'N-O'"}], "mark": {"type": "area", "interpolate": "monotone", "fillOpacity": 0.72, "clip": true, "color": {"gradient": "linear", "x1": 0, "y1": 0, "x2": 0, "y2": 1, "stops": [{"offset": 0, "color": "#86f1aa"}, {"offset": 1, "color": "#ffffff"}]}}, "encoding": {"y2": {"field": "y0"}}},
            {"data": {"name": "h_comp"}, "transform": [{"filter": "datum.c === 'N-O'"}], "mark": {"type": "line", "interpolate": "monotone", "strokeWidth": 2, "clip": true}, "encoding": {"stroke": {"field": "c", "type": "nominal"}}},
            {"data": {"name": "h_bg"}, "mark": {"type": "line", "interpolate": "monotone", "color": "#bdbdbd", "strokeWidth": 2.5, "clip": true}},
            {"data": {"name": "h_env"}, "mark": {"type": "line", "interpolate": "monotone", "color": "#2d6684", "strokeWidth": 2.5, "clip": true}},
            {"data": {"values": [{"x": 393.39, "y": 555, "t": "N 1s"}]}, "mark": {"type": "text", "align": "right", "baseline": "alphabetic", "fontSize": 30, "color": "black"}, "encoding": {"text": {"field": "t"}}}
          ]
        }
      ]
    },
    {
      "spacing": 55.5,
      "resolve": {"scale": {"stroke": "independent"}, "legend": {"stroke": "independent"}},
      "hconcat": [
        {
          "title": {"text": "(I)"},
          "width": 738, "height": 595,
          "encoding": {
            "x": {"field": "x", "type": "quantitative", "scale": {"domain": [279.552, 295.916], "reverse": true, "nice": false, "zero": false}, "axis": {"values": [280, 285, 290, 295], "format": "d", "title": "Binding Energy (eV)", "labelPadding": 10, "titlePadding": 9}},
            "y": {"field": "y", "type": "quantitative", "scale": {"domain": [0, 595], "nice": false, "zero": false}, "axis": {"title": "Intensity (a.u.)", "labels": false, "ticks": false, "titlePadding": 22}}
          },
          "layer": [
            {"data": {"name": "i_pts"}, "mark": {"type": "circle", "size": 28, "color": "black", "opacity": 1, "clip": true}},
            {"data": {"name": "i_comp"}, "transform": [{"filter": "datum.c === 'C=C'"}], "mark": {"type": "area", "interpolate": "monotone", "fillOpacity": 0.72, "clip": true, "color": {"gradient": "linear", "x1": 0, "y1": 0, "x2": 0, "y2": 1, "stops": [{"offset": 0, "color": "#accde6"}, {"offset": 1, "color": "#ffffff"}]}}, "encoding": {"y2": {"field": "y0"}}},
            {"data": {"name": "i_comp"}, "transform": [{"filter": "datum.c === 'C=C'"}], "mark": {"type": "line", "interpolate": "monotone", "strokeWidth": 2.2, "clip": true},
             "encoding": {"stroke": {"field": "c", "type": "nominal", "scale": {"domain": ["C=C", "C-C/C-H", "C-O/C-N", "C=O", "-COOH", "π–π* sat."], "range": ["#1f7fc0", "#f78c72", "#d8a6f6", "#7fe9a2", "#1ba0a3", "#8c9ef3"]},
               "legend": {"legendX": -52, "legendY": 712, "columns": 3, "columnPadding": 47, "rowPadding": 5,
                 "encode": {"symbols": {"update": {"fill": [
                   {"test": "datum.value === 'C=C'", "value": {"gradient": "linear", "x1": 0, "y1": 0, "x2": 0, "y2": 1, "stops": [{"offset": 0, "color": "#bcd7eb"}, {"offset": 1, "color": "#ffffff"}]}},
                   {"test": "datum.value === 'C-C/C-H'", "value": {"gradient": "linear", "x1": 0, "y1": 0, "x2": 0, "y2": 1, "stops": [{"offset": 0, "color": "#fbb0aa"}, {"offset": 1, "color": "#ffffff"}]}},
                   {"test": "datum.value === 'C-O/C-N'", "value": {"gradient": "linear", "x1": 0, "y1": 0, "x2": 0, "y2": 1, "stops": [{"offset": 0, "color": "#e6c9fc"}, {"offset": 1, "color": "#ffffff"}]}},
                   {"test": "datum.value === 'C=O'", "value": {"gradient": "linear", "x1": 0, "y1": 0, "x2": 0, "y2": 1, "stops": [{"offset": 0, "color": "#a3f3be"}, {"offset": 1, "color": "#ffffff"}]}},
                   {"test": "datum.value === '-COOH'", "value": {"gradient": "linear", "x1": 0, "y1": 0, "x2": 0, "y2": 1, "stops": [{"offset": 0, "color": "#bfe3e4"}, {"offset": 1, "color": "#ffffff"}]}},
                   {"value": {"gradient": "linear", "x1": 0, "y1": 0, "x2": 0, "y2": 1, "stops": [{"offset": 0, "color": "#bac4f8"}, {"offset": 1, "color": "#ffffff"}]}}]}}}}}}},
            {"data": {"name": "i_comp"}, "transform": [{"filter": "datum.c === 'C-C/C-H'"}], "mark": {"type": "area", "interpolate": "monotone", "fillOpacity": 0.72, "clip": true, "color": {"gradient": "linear", "x1": 0, "y1": 0, "x2": 0, "y2": 1, "stops": [{"offset": 0, "color": "#f9978f"}, {"offset": 1, "color": "#ffffff"}]}}, "encoding": {"y2": {"field": "y0"}}},
            {"data": {"name": "i_comp"}, "transform": [{"filter": "datum.c === 'C-C/C-H'"}], "mark": {"type": "line", "interpolate": "monotone", "strokeWidth": 2, "clip": true}, "encoding": {"stroke": {"field": "c", "type": "nominal"}}},
            {"data": {"name": "i_comp"}, "transform": [{"filter": "datum.c === 'C-O/C-N'"}], "mark": {"type": "area", "interpolate": "monotone", "fillOpacity": 0.72, "clip": true, "color": {"gradient": "linear", "x1": 0, "y1": 0, "x2": 0, "y2": 1, "stops": [{"offset": 0, "color": "#dbb9f9"}, {"offset": 1, "color": "#ffffff"}]}}, "encoding": {"y2": {"field": "y0"}}},
            {"data": {"name": "i_comp"}, "transform": [{"filter": "datum.c === 'C-O/C-N'"}], "mark": {"type": "line", "interpolate": "monotone", "strokeWidth": 2, "clip": true}, "encoding": {"stroke": {"field": "c", "type": "nominal"}}},
            {"data": {"name": "i_comp"}, "transform": [{"filter": "datum.c === 'C=O'"}], "mark": {"type": "area", "interpolate": "monotone", "fillOpacity": 0.72, "clip": true, "color": {"gradient": "linear", "x1": 0, "y1": 0, "x2": 0, "y2": 1, "stops": [{"offset": 0, "color": "#86f1aa"}, {"offset": 1, "color": "#ffffff"}]}}, "encoding": {"y2": {"field": "y0"}}},
            {"data": {"name": "i_comp"}, "transform": [{"filter": "datum.c === 'C=O'"}], "mark": {"type": "line", "interpolate": "monotone", "strokeWidth": 2, "clip": true}, "encoding": {"stroke": {"field": "c", "type": "nominal"}}},
            {"data": {"name": "i_comp"}, "transform": [{"filter": "datum.c === '-COOH'"}], "mark": {"type": "area", "interpolate": "monotone", "fillOpacity": 0.72, "clip": true, "color": {"gradient": "linear", "x1": 0, "y1": 0, "x2": 0, "y2": 1, "stops": [{"offset": 0, "color": "#aadbdb"}, {"offset": 1, "color": "#ffffff"}]}}, "encoding": {"y2": {"field": "y0"}}},
            {"data": {"name": "i_comp"}, "transform": [{"filter": "datum.c === '-COOH'"}], "mark": {"type": "line", "interpolate": "monotone", "strokeWidth": 2, "clip": true}, "encoding": {"stroke": {"field": "c", "type": "nominal"}}},
            {"data": {"name": "i_comp"}, "transform": [{"filter": "datum.c === 'π–π* sat.'"}], "mark": {"type": "area", "interpolate": "monotone", "fillOpacity": 0.72, "clip": true, "color": {"gradient": "linear", "x1": 0, "y1": 0, "x2": 0, "y2": 1, "stops": [{"offset": 0, "color": "#a3b0f5"}, {"offset": 1, "color": "#ffffff"}]}}, "encoding": {"y2": {"field": "y0"}}},
            {"data": {"name": "i_comp"}, "transform": [{"filter": "datum.c === 'π–π* sat.'"}], "mark": {"type": "line", "interpolate": "monotone", "strokeWidth": 2, "clip": true}, "encoding": {"stroke": {"field": "c", "type": "nominal"}}},
            {"data": {"name": "i_env"}, "mark": {"type": "line", "interpolate": "monotone", "color": "#2d6684", "strokeWidth": 2.5, "clip": true}},
            {"data": {"values": [{"x": 280.0, "y": 560, "t": "C 1s"}]}, "mark": {"type": "text", "align": "right", "baseline": "alphabetic", "fontSize": 30, "color": "black"}, "encoding": {"text": {"field": "t"}}}
          ]
        },
        {
          "title": {"text": "(J)"},
          "width": 738, "height": 595,
          "encoding": {
            "x": {"field": "x", "type": "quantitative", "scale": {"domain": [527.053, 540], "reverse": true, "nice": false, "zero": false}, "axis": {"values": [528, 530, 532, 534, 536, 538, 540], "format": "d", "title": "Binding Energy (eV)", "labelPadding": 10, "titlePadding": 9}},
            "y": {"field": "y", "type": "quantitative", "scale": {"domain": [0, 595], "nice": false, "zero": false}, "axis": {"title": "Intensity (a.u.)", "labels": false, "ticks": false, "titlePadding": 22}}
          },
          "layer": [
            {"data": {"name": "j_pts"}, "mark": {"type": "circle", "size": 30, "color": "black", "opacity": 1, "clip": true}},
            {"data": {"name": "j_comp"}, "transform": [{"filter": "datum.c === 'C=O'"}], "mark": {"type": "area", "interpolate": "monotone", "fillOpacity": 0.72, "clip": true, "color": {"gradient": "linear", "x1": 0, "y1": 0, "x2": 0, "y2": 1, "stops": [{"offset": 0, "color": "#dbb9f9"}, {"offset": 1, "color": "#ffffff"}]}}, "encoding": {"y2": {"field": "y0"}}},
            {"data": {"name": "j_comp"}, "transform": [{"filter": "datum.c === 'C=O'"}], "mark": {"type": "line", "interpolate": "monotone", "strokeWidth": 2, "clip": true},
             "encoding": {"stroke": {"field": "c", "type": "nominal", "scale": {"domain": ["C=O", "C-O", "H₂O"], "range": ["#d8a6f6", "#f58a82", "#7fe9a2"]},
               "legend": {"legendX": -50, "legendY": 708, "columnPadding": 47,
                 "encode": {"symbols": {"update": {"fill": [
                   {"test": "datum.value === 'C=O'", "value": {"gradient": "linear", "x1": 0, "y1": 0, "x2": 0, "y2": 1, "stops": [{"offset": 0, "color": "#e6c9fc"}, {"offset": 1, "color": "#ffffff"}]}},
                   {"test": "datum.value === 'C-O'", "value": {"gradient": "linear", "x1": 0, "y1": 0, "x2": 0, "y2": 1, "stops": [{"offset": 0, "color": "#fbb0aa"}, {"offset": 1, "color": "#ffffff"}]}},
                   {"value": {"gradient": "linear", "x1": 0, "y1": 0, "x2": 0, "y2": 1, "stops": [{"offset": 0, "color": "#a3f3be"}, {"offset": 1, "color": "#ffffff"}]}}]}}}}}}},
            {"data": {"name": "j_comp"}, "transform": [{"filter": "datum.c === 'C-O'"}], "mark": {"type": "area", "interpolate": "monotone", "fillOpacity": 0.72, "clip": true, "color": {"gradient": "linear", "x1": 0, "y1": 0, "x2": 0, "y2": 1, "stops": [{"offset": 0, "color": "#f9978f"}, {"offset": 1, "color": "#ffffff"}]}}, "encoding": {"y2": {"field": "y0"}}},
            {"data": {"name": "j_comp"}, "transform": [{"filter": "datum.c === 'C-O'"}], "mark": {"type": "line", "interpolate": "monotone", "strokeWidth": 2, "clip": true}, "encoding": {"stroke": {"field": "c", "type": "nominal"}}},
            {"data": {"name": "j_comp"}, "transform": [{"filter": "datum.c === 'H₂O'"}], "mark": {"type": "area", "interpolate": "monotone", "fillOpacity": 0.72, "clip": true, "color": {"gradient": "linear", "x1": 0, "y1": 0, "x2": 0, "y2": 1, "stops": [{"offset": 0, "color": "#86f1aa"}, {"offset": 1, "color": "#ffffff"}]}}, "encoding": {"y2": {"field": "y0"}}},
            {"data": {"name": "j_comp"}, "transform": [{"filter": "datum.c === 'H₂O'"}], "mark": {"type": "line", "interpolate": "monotone", "strokeWidth": 2, "clip": true}, "encoding": {"stroke": {"field": "c", "type": "nominal"}}},
            {"data": {"name": "j_env"}, "mark": {"type": "line", "interpolate": "monotone", "color": "#2d6684", "strokeWidth": 2.5, "clip": true}},
            {"data": {"values": [{"x": 527.39, "y": 560, "t": "O 1s"}]}, "mark": {"type": "text", "align": "right", "baseline": "alphabetic", "fontSize": 30, "color": "black"}, "encoding": {"text": {"field": "t"}}}
          ]
        }
      ]
    }
  ]
}
